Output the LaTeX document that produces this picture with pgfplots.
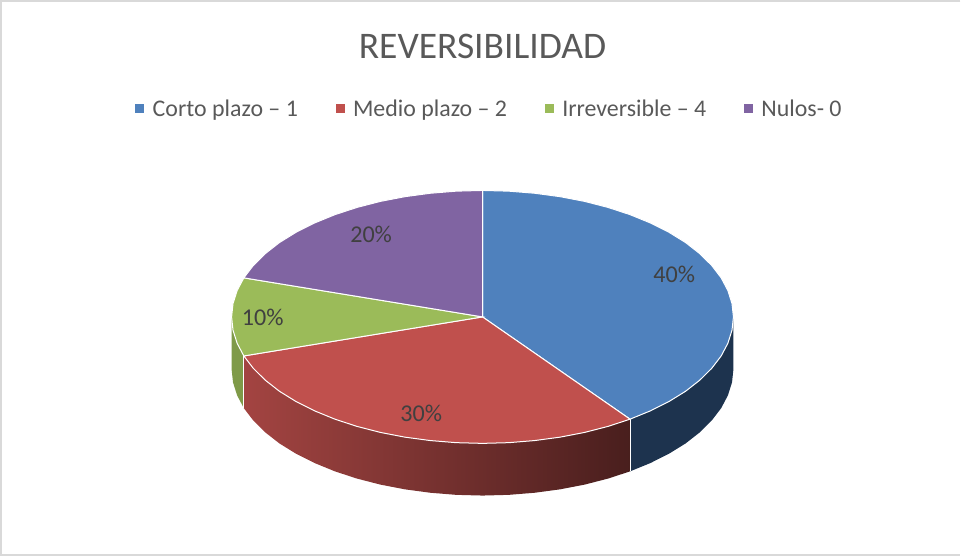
\documentclass[border=0pt]{standalone}
\usepackage{fontspec}
\setmainfont{Carlito}
\usepackage{pgfplots}
\pgfplotsset{compat=1.18}
\definecolor{pieblue}{HTML}{4F81BD}
\definecolor{piered}{HTML}{C0504D}
\definecolor{piegreen}{HTML}{9BBB59}
\definecolor{piepurple}{HTML}{8064A2}
\definecolor{sideblue}{HTML}{1D334E}
\definecolor{sidegreen}{HTML}{7F9A48}
\definecolor{legtext}{HTML}{595959}
\definecolor{frame}{HTML}{D9D9D9}
\begin{document}
\begin{tikzpicture}
\begin{axis}[
    scale only axis,
    width=961pt,
    height=556pt,
    xmin=-2, xmax=959,
    ymin=-1.5, ymax=554.5,
    y dir=reverse,
    hide axis,
    clip=false,
    legend style={at={(axis cs:490,109.5)}, anchor=center, draw=none, fill=none,
        font=\fontsize{23.8}{27}\selectfont, text=legtext, legend columns=4,
        /tikz/every even column/.append style={column sep=35.7pt},
        legend cell align=left},
]
% frame
\addplot[frame, line width=1.5pt, forget plot] coordinates {(959,2) (3,2) (3,554) (959,554)};

% side walls
\addplot[draw=none, fill=sideblue, forget plot] coordinates {
(733,317) (731.6,330.2) (727.5,343.2) (720.8,355.9) (711.4,368.2) (699.5,380) (685.3,391.1) (668.8,401.3) (650.3,410.6) (630,418.9)
(630,470.9) (650.3,462.6) (668.8,453.3) (685.3,443.1) (699.5,432) (711.4,420.2) (720.8,407.9) (727.5,395.2) (731.6,382.2) (733,369)
} -- cycle;
\addplot[draw=none, left color=piered!85!black, middle color=piered!62!black, right color=piered!38!black, forget plot] coordinates {
(630,418.9) (608,426.1) (584.7,432.1) (560.3,436.8) (535,440.2) (509.1,442.3) (483,443) (456.9,442.3) (431,440.2) (405.7,436.8) (381.3,432.1) (358,426.1) (336,418.9) (315.7,410.6) (297.2,401.3) (280.7,391.1) (266.5,380) (254.6,368.2) (245.2,355.9)
(245.2,407.9) (254.6,420.2) (266.5,432) (280.7,443.1) (297.2,453.3) (315.7,462.6) (336,470.9) (358,478.1) (381.3,484.1) (405.7,488.8) (431,492.2) (456.9,494.3) (483,495) (509.1,494.3) (535,492.2) (560.3,488.8) (584.7,484.1) (608,478.1) (630,470.9)
} -- cycle;
\addplot[draw=none, fill=sidegreen, forget plot] coordinates {
(245.2,355.9) (238.5,343.2) (234.4,330.2) (233,317)
(233,369) (234.4,382.2) (238.5,395.2) (245.2,407.9)
} -- cycle;
\addplot[white, line width=1pt, forget plot] coordinates {(630,418.9) (630,470.9)};
\addplot[white, line width=1pt, forget plot] coordinates {(245.2,355.9) (245.2,407.9)};

% top slices
\addplot[draw=white, line width=1pt, fill=pieblue, forget plot] coordinates {
(483,317) (483,191) (509.1,191.7) (535,193.8) (560.3,197.2) (584.7,201.9) (608,207.9) (630,215.1) (650.3,223.4) (668.8,232.7) (685.3,242.9) (699.5,254) (711.4,265.8) (720.8,278.1) (727.5,290.8) (731.6,303.8) (733,317) (731.6,330.2) (727.5,343.2) (720.8,355.9) (711.4,368.2) (699.5,380) (685.3,391.1) (668.8,401.3) (650.3,410.6) (630,418.9)
} -- cycle;
\addplot[draw=white, line width=1pt, fill=piered, forget plot] coordinates {
(483,317) (630,418.9) (608,426.1) (584.7,432.1) (560.3,436.8) (535,440.2) (509.1,442.3) (483,443) (456.9,442.3) (431,440.2) (405.7,436.8) (381.3,432.1) (358,426.1) (336,418.9) (315.7,410.6) (297.2,401.3) (280.7,391.1) (266.5,380) (254.6,368.2) (245.2,355.9)
} -- cycle;
\addplot[draw=white, line width=1pt, fill=piegreen, forget plot] coordinates {
(483,317) (245.2,355.9) (238.5,343.2) (234.4,330.2) (233,317) (234.4,303.8) (238.5,290.8) (245.2,278.1)
} -- cycle;
\addplot[draw=white, line width=1pt, fill=piepurple, forget plot] coordinates {
(483,317) (245.2,278.1) (254.6,265.8) (266.5,254) (280.7,242.9) (297.2,232.7) (315.7,223.4) (336,215.1) (358,207.9) (381.3,201.9) (405.7,197.2) (431,193.8) (456.9,191.7) (483,191)
} -- cycle;

% share labels
\addplot[only marks, mark=none, forget plot, point meta=explicit symbolic,
    nodes near coords, nodes near coords align={center},
    every node near coord/.append style={font=\fontsize{24}{28}\selectfont, text=black!75, inner sep=0pt}]
  table[meta=label] {
x y label
674 275 40\%
422 413 30\%
264 317 10\%
372 235 20\%
};

% legend
\addlegendimage{legend image code/.code={\fill[pieblue] (0pt,-4pt) rectangle (8pt,4pt); \path[draw=none] (0pt,0pt) -- (15pt,0pt);}}
\addlegendentry{Corto plazo – 1}
\addlegendimage{legend image code/.code={\fill[piered] (0pt,-4pt) rectangle (8pt,4pt); \path[draw=none] (0pt,0pt) -- (15pt,0pt);}}
\addlegendentry{Medio plazo – 2}
\addlegendimage{legend image code/.code={\fill[piegreen] (0pt,-4pt) rectangle (8pt,4pt); \path[draw=none] (0pt,0pt) -- (15pt,0pt);}}
\addlegendentry{Irreversible – 4}
\addlegendimage{legend image code/.code={\fill[piepurple] (0pt,-4pt) rectangle (8pt,4pt); \path[draw=none] (0pt,0pt) -- (15pt,0pt);}}
\addlegendentry{Nulos- 0}

\node[font=\fontsize{37.4}{42}\selectfont, text=legtext] at (axis cs:483,47.5) {REVERSIBILIDAD};
\end{axis}
\end{tikzpicture}
\end{document}
